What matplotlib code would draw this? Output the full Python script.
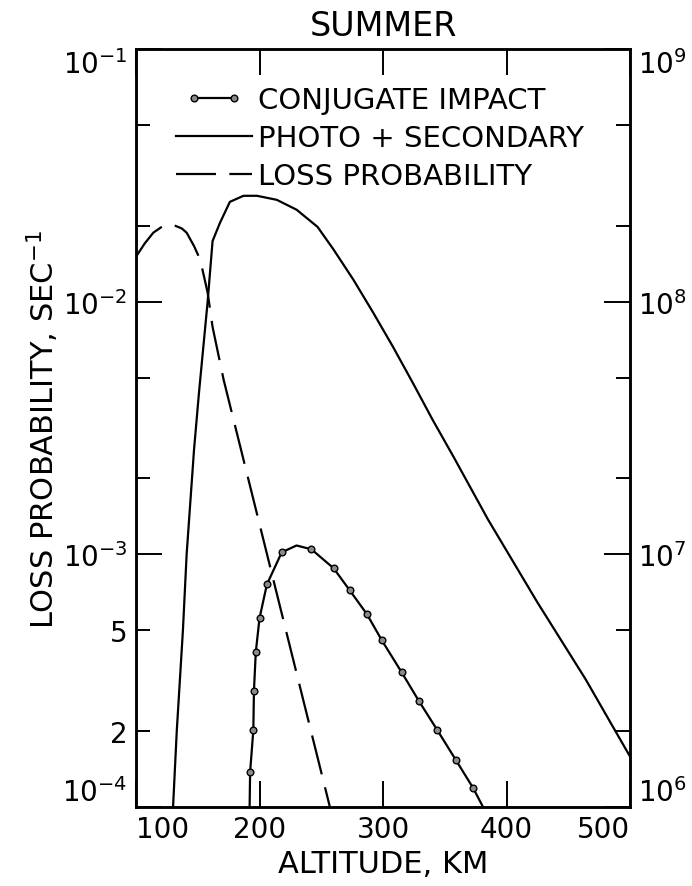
import numpy as np
import matplotlib
matplotlib.use('Agg')
import matplotlib.pyplot as plt
from matplotlib.ticker import FixedLocator, FuncFormatter, NullFormatter
from matplotlib.legend_handler import HandlerLine2D

plt.rcParams['font.family'] = 'DejaVu Sans'
plt.rcParams['mathtext.default'] = 'regular'

# altitude (km) and log10 of the value
photo_alt = [130, 133, 138, 141, 147, 151, 158, 162, 168, 176, 187, 198, 214, 230,
             247, 260, 276, 292, 308, 324, 340, 357, 385, 425, 464, 500]
photo_log = [-4.0, -3.7, -3.3, -3.0, -2.585, -2.36, -2.0, -1.76, -1.688, -1.605,
             -1.581, -1.581, -1.597, -1.636, -1.704, -1.794, -1.913, -2.043, -2.178,
             -2.32, -2.466, -2.613, -2.862, -3.19, -3.494, -3.80]

loss_alt = [100, 107, 114, 122, 130, 137, 141, 147, 152, 158, 162, 171, 200, 230, 257]
loss_log = [-1.822, -1.77, -1.727, -1.70, -1.696, -1.71, -1.727, -1.78, -1.834,
            -1.964, -2.10, -2.31, -2.88, -3.47, -4.0]

conj_alt = [192, 192.4, 195, 195.5, 197, 200, 206, 218, 230, 242, 260, 273, 287,
            299, 315, 329, 344, 359, 373, 381]
conj_log = [-4.0, -3.862, -3.696, -3.54, -3.387, -3.253, -3.119, -2.992, -2.965,
            -2.98, -3.055, -3.142, -3.237, -3.34, -3.466, -3.58, -3.696, -3.814,
            -3.925, -4.0]
conj_marked = [1, 2, 3, 4, 5, 6, 7, 9, 10, 11, 12, 13, 14, 15, 16, 17, 18]

x_ticks = [100, 200, 300, 400, 500]
left_major = [1e-4, 1e-3, 1e-2, 1e-1]
left_labels = ['$10^{-4}$', '$10^{-3}$', '$10^{-2}$', '$10^{-1}$']
left_minor = [2e-4, 5e-4, 2e-3, 5e-3, 2e-2, 5e-2]
right_major = [1e6, 1e7, 1e8, 1e9]
right_labels = ['$10^{6}$', '$10^{7}$', '$10^{8}$', '$10^{9}$']
right_minor = [2e6, 5e6, 2e7, 5e7, 2e8, 5e8]

fig = plt.figure(figsize=(6.92, 8.87), dpi=100)
ax = fig.add_axes([136/692, 1-808/887, (630-136)/692, (808-50)/887])

l_conj, = ax.plot(conj_alt, 10**np.array(conj_log), color='black', lw=1.6,
                  marker='o', markevery=conj_marked, ms=4.8,
                  mfc='#8a8a8a', mec='black', mew=1.0, label='CONJUGATE IMPACT')
l_photo, = ax.plot(photo_alt, 10**np.array(photo_log), color='black', lw=1.6,
                   label='PHOTO + SECONDARY')
l_loss, = ax.plot(loss_alt, 10**np.array(loss_log), color='black', lw=1.6,
                  dashes=(18, 6), label='LOSS PROBABILITY')

ax.set_yscale('log')
ax.set_xlim(100, 500)
ax.set_ylim(1e-4, 1e-1)

ax.set_xticks(x_ticks)
ax.set_xticklabels([str(v) for v in x_ticks])
ax.tick_params(axis='x', which='major', direction='in', length=19, width=1.4,
               top=True, bottom=True, labelsize=20, pad=6)

ax.yaxis.set_major_locator(FixedLocator(left_major))
ax.set_yticklabels(left_labels)
ax.yaxis.set_minor_locator(FixedLocator(left_minor))
ax.yaxis.set_minor_formatter(FuncFormatter(
    lambda v, p: '5' if abs(v-5e-4) < 1e-6 else ('2' if abs(v-2e-4) < 1e-6 else '')))
ax.tick_params(axis='y', which='major', direction='in', length=19, width=1.4,
               left=True, right=False, labelsize=20, pad=6)
ax.tick_params(axis='y', which='minor', direction='in', length=10, width=1.4,
               left=True, right=False, labelsize=20, pad=6)

for s in ax.spines.values():
    s.set_linewidth(1.8)

ax2 = ax.twinx()
ax2.set_yscale('log')
ax2.set_ylim(1e6, 1e9)
ax2.yaxis.set_major_locator(FixedLocator(right_major))
ax2.set_yticklabels(right_labels)
ax2.yaxis.set_minor_locator(FixedLocator(right_minor))
ax2.yaxis.set_minor_formatter(NullFormatter())
ax2.tick_params(axis='y', which='major', direction='in', length=19, width=1.4,
                labelsize=20, pad=6)
ax2.tick_params(axis='y', which='minor', direction='in', length=10, width=1.4)
for s in ax2.spines.values():
    s.set_linewidth(1.8)

# end labels sit inside the frame like the hand lettering
lt = ax.yaxis.get_major_ticks()
lt[0].label1.set_va('bottom'); lt[-1].label1.set_va('top')
rt = ax2.yaxis.get_major_ticks()
rt[0].label2.set_va('bottom'); rt[-1].label2.set_va('top')
xt = ax.xaxis.get_major_ticks()
xt[0].label1.set_ha('left'); xt[-1].label1.set_ha('right')

ax.set_title('SUMMER', fontsize=24, pad=10)
ax.set_xlabel('ALTITUDE, KM', fontsize=22, labelpad=4)
ax.set_ylabel('LOSS PROBABILITY, SEC$^{-1}$', fontsize=22, labelpad=1)

ax.legend(handles=[l_conj, l_photo, l_loss], loc='upper left',
          bbox_to_anchor=(0.081, 0.951), frameon=False, fontsize=21,
          handlelength=2.6, handletextpad=0.2, labelspacing=0.34,
          borderpad=0, borderaxespad=0,
          handler_map={l_conj: HandlerLine2D(marker_pad=0.6, numpoints=2)})

fig.savefig('out.png', dpi=100)
